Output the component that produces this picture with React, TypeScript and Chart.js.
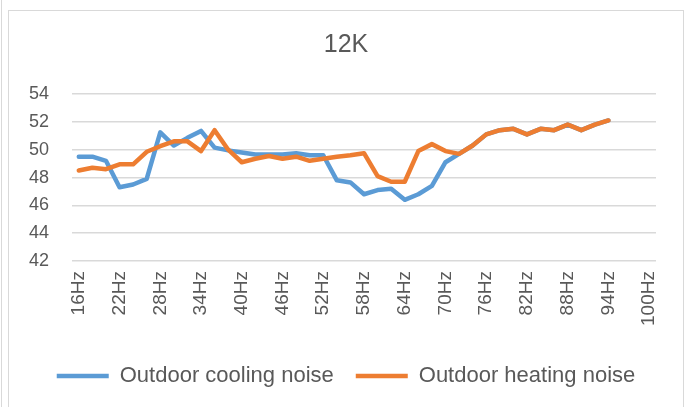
import React, { useEffect, useRef } from 'react';
import { Chart, registerables } from 'chart.js';

Chart.register(...registerables);

const categories = [
  '16Hz', '18Hz', '20Hz', '22Hz', '24Hz', '26Hz', '28Hz', '30Hz', '32Hz', '34Hz',
  '36Hz', '38Hz', '40Hz', '42Hz', '44Hz', '46Hz', '48Hz', '50Hz', '52Hz', '54Hz',
  '56Hz', '58Hz', '60Hz', '62Hz', '64Hz', '66Hz', '68Hz', '70Hz', '72Hz', '74Hz',
  '76Hz', '78Hz', '80Hz', '82Hz', '84Hz', '86Hz', '88Hz', '90Hz', '92Hz', '94Hz',
  '96Hz', '98Hz', '100Hz',
];

const coolingNoise = [
  49.5, 49.5, 49.2, 47.3, 47.5, 47.9, 51.25, 50.3, 50.85, 51.35,
  50.15, 49.95, 49.8, 49.65, 49.65, 49.65, 49.75, 49.6, 49.6, 47.8,
  47.65, 46.8, 47.1, 47.2, 46.4, 46.8, 47.4, 49.1, 49.7, 50.3,
  51.1, 51.4, 51.5, 51.1, 51.5, 51.4, 51.8, 51.4, 51.8, 52.1,
];

const heatingNoise = [
  48.5, 48.7, 48.6, 48.95, 48.95, 49.85, 50.25, 50.6, 50.6, 49.9,
  51.4, 50.0, 49.1, 49.35, 49.55, 49.35, 49.5, 49.2, 49.35, 49.5,
  49.6, 49.75, 48.1, 47.7, 47.7, 49.9, 50.4, 49.9, 49.7, 50.3,
  51.1, 51.4, 51.5, 51.1, 51.5, 51.4, 51.8, 51.4, 51.8, 52.1,
];

const seriesNames = ['Outdoor cooling noise', 'Outdoor heating noise'];
const chartTitle = '12K';
const yMin = 42;
const yMax = 54;
const yStep = 2;
const labelEvery = 3;

const FONT = "'Liberation Sans', Arial, sans-serif";
const TEXT = '#595959';
const BLUE = '#5B9BD5';
const ORANGE = '#ED7D31';

export default function App() {
  const ref = useRef<HTMLCanvasElement>(null);

  useEffect(() => {
    if (!ref.current) return;
    const chart = new Chart(ref.current, {
      type: 'line',
      data: {
        labels: categories,
        datasets: [
          {
            label: seriesNames[0],
            data: coolingNoise,
            borderColor: BLUE,
            backgroundColor: BLUE,
            borderWidth: 4.5,
            pointRadius: 0,
            tension: 0,
            borderCapStyle: 'round',
            borderJoinStyle: 'round',
            order: 2,
          },
          {
            label: seriesNames[1],
            data: heatingNoise,
            borderColor: ORANGE,
            backgroundColor: ORANGE,
            borderWidth: 4.5,
            pointRadius: 0,
            tension: 0,
            borderCapStyle: 'round',
            borderJoinStyle: 'round',
            order: 1,
          },
        ],
      },
      options: {
        responsive: false,
        animation: false,
        devicePixelRatio: 1,
        layout: { padding: { left: 0, right: 0, top: 0, bottom: 10 } },
        plugins: {
          title: {
            display: true,
            text: chartTitle,
            color: TEXT,
            font: { family: FONT, size: 25, weight: 'normal' },
            padding: { top: 19, bottom: 34 },
          },
          legend: {
            position: 'bottom',
            labels: {
              usePointStyle: true,
              pointStyle: 'line',
              pointStyleWidth: 52,
              color: TEXT,
              font: { family: FONT, size: 22 },
              padding: 22,
              sort: (a: any, b: any) => a.datasetIndex - b.datasetIndex,
            },
          },
          tooltip: { enabled: false },
        },
        scales: {
          x: {
            offset: true,
            grid: { display: false, drawTicks: false },
            border: { display: false },
            ticks: {
              autoSkip: false,
              maxRotation: 90,
              minRotation: 90,
              padding: 10,
              color: TEXT,
              font: { family: FONT, size: 19 },
              callback: (_v: any, i: number) => (i % labelEvery === 0 ? categories[i] : ''),
            },
            afterFit: (s: any) => {
              s.height += 7;
            },
          },
          y: {
            min: yMin,
            max: yMax,
            ticks: {
              stepSize: yStep,
              padding: 23,
              color: TEXT,
              font: { family: FONT, size: 18 },
            },
            grid: { color: '#D9D9D9', lineWidth: 1.5, drawTicks: false },
            border: { display: false },
            afterFit: (s: any) => {
              s.width = 63;
            },
          },
          yRightGap: {
            type: 'linear',
            position: 'right',
            display: true,
            grid: { display: false, drawTicks: false },
            border: { display: false },
            ticks: { display: false },
            afterFit: (s: any) => {
              s.width = 27;
            },
          },
        },
      },
    });
    return () => chart.destroy();
  }, []);

  return (
    <div
      style={{
        position: 'fixed',
        left: 0,
        top: 0,
        width: 690,
        height: 407,
        overflow: 'hidden',
        background: '#ffffff',
      }}
    >
      <div style={{ position: 'absolute', left: 1, top: 0, width: 1, height: 407, background: '#D9D9D9' }} />
      <div
        style={{
          position: 'absolute',
          left: 8,
          top: 10,
          width: 674,
          height: 420,
          border: '1px solid #D9D9D9',
        }}
      >
        <canvas ref={ref} width={674} height={396} style={{ display: 'block' }} />
      </div>
    </div>
  );
}
